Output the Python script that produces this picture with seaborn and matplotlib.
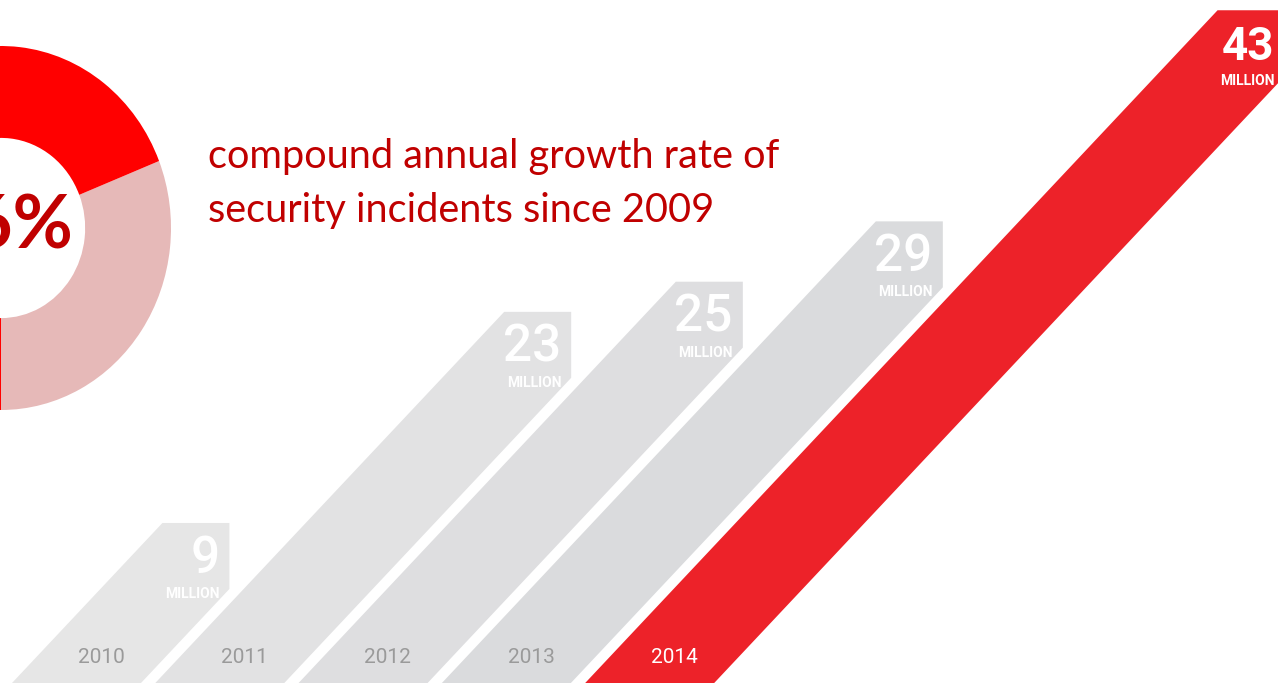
import numpy as np
import pandas as pd
import matplotlib
matplotlib.use("Agg")
import matplotlib.pyplot as plt
import seaborn as sns

# ---------------- data ----------------
years = ["2010", "2011", "2012", "2013", "2014"]
incidents = [9, 23, 25, 29, 43]          # millions of security incidents
unit_label = "MILLION"
donut_parts = ["rest", "growth"]
donut_values = [31, 69]
cagr_label = "66%"
title_lines = ["compound annual growth rate of", "security incidents since 2009"]

df = pd.DataFrame({"year": years, "incidents": incidents})

# ---------------- style ----------------
sns.set_theme(style="white")
plt.rcParams["font.family"] = ["Lato", "DejaVu Sans"]

band_colors = ["#e6e6e6", "#e2e2e3", "#dedee0", "#dadbdd", "#ed2229"]
year_colors = ["#9a9a9a", "#9a9a9a", "#9a9a9a", "#9a9a9a", "#ffffff"]
donut_colors = ["#e6b9b8", "#ff0000"]
text_red = "#c00000"

W_PX, H_PX = 1278, 683
fig = plt.figure(figsize=(W_PX / 100, H_PX / 100), dpi=100)
fig.patch.set_facecolor("white")

# main axes: same scale in x and y (pixels per unit)
U = 15.08
YMIN = -24.3 / U
YMAX = YMIN + H_PX / U
XMAX = W_PX / U
ax = fig.add_axes([0, 0, 1, 1])
ax.set_xlim(0, XMAX)
ax.set_ylim(YMIN, YMAX)
ax.axis("off")

slope = 0.94            # horizontal shift per unit of height
band_w = 129 / U        # horizontal band width
box_w = 67 / U          # width of flat top
x_first, x_step = 12 / U, 143.3 / U

for i, row in df.iterrows():
    v = row["incidents"]
    xL = x_first + x_step * i
    yb = YMIN - 1
    x_tl = xL + slope * (v - YMIN)
    x_tr = x_tl + box_w
    y_v = YMIN + (x_tr - xL - band_w) / slope
    pts = [
        (xL + slope * (yb - YMIN), yb),
        (x_tl, v),
        (x_tr, v),
        (x_tr, y_v),
        (xL + band_w + slope * (yb - YMIN), yb),
    ]
    ax.fill([p[0] for p in pts], [p[1] for p in pts], color=band_colors[i],
            lw=0, zorder=2)
    # value labels
    big = i == len(df) - 1
    ax.text(x_tr - 10 / U, v - 50 / U, f"{v}", ha="right", va="baseline",
            color="white", fontsize=33 if big else 37,
            fontweight="bold" if big else "medium",
            family=["Roboto", "DejaVu Sans"], zorder=3)
    ax.text(x_tr - 10 / U, v - 75 / U, unit_label, ha="right", va="baseline",
            color="white", fontsize=10, fontweight="bold",
            family=["Roboto", "DejaVu Sans"], zorder=3)
    # year labels
    y_lab = YMIN + 20 / U
    xc = xL + band_w / 2 + slope * (y_lab - YMIN) + 6 / U
    ax.text(xc, y_lab, row["year"], ha="center", va="baseline",
            color=year_colors[i], fontsize=15,
            family=["Roboto", "DejaVu Sans"], zorder=3)

# ---------------- donut ----------------
cx, cy, rx, ry = 1, 228, 170, 182
ax2 = fig.add_axes([(cx - rx) / W_PX, (H_PX - (cy + ry)) / H_PX,
                    2 * rx / W_PX, 2 * ry / H_PX])
ax2.pie(donut_values, colors=donut_colors, startangle=-90, counterclock=True,
        radius=1, wedgeprops=dict(width=0.505, edgecolor="none"))
ax2.set_aspect("auto")
ax2.set_xlim(-1, 1)
ax2.set_ylim(-1, 1)
ax2.axis("off")
ax2.text(0, -0.11, cagr_label, ha="center", va="baseline", color=text_red,
         fontsize=53, fontweight="bold")

# ---------------- headline ----------------
for k, line in enumerate(title_lines):
    fig.text(208 / W_PX, 1 - (168 + 54 * k) / H_PX, line, ha="left",
             va="baseline", color=text_red, fontsize=28.6)

fig.savefig("out.png", dpi=100, facecolor="white")
